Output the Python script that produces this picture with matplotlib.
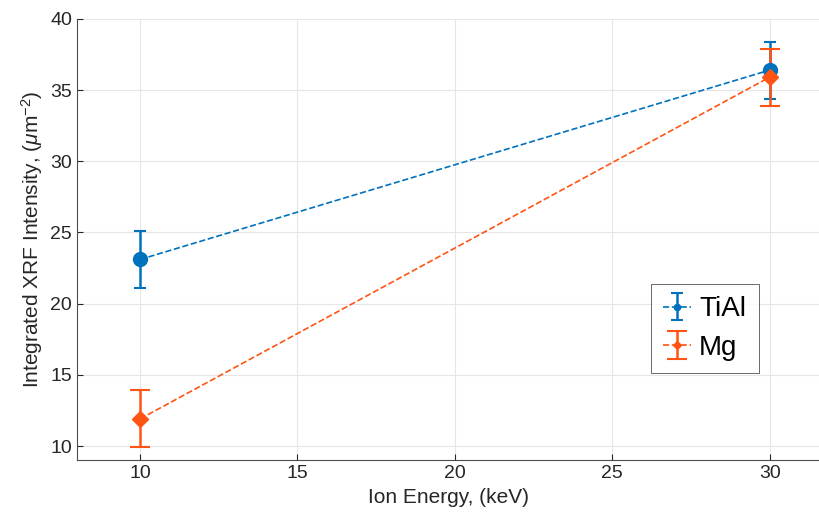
import numpy as np
import matplotlib.pyplot as plt

plt.rcParams['font.family'] = ['Liberation Sans', 'DejaVu Sans']
plt.rcParams['mathtext.fontset'] = 'custom'
plt.rcParams['mathtext.it'] = 'Liberation Sans:italic'
plt.rcParams['mathtext.rm'] = 'Liberation Sans'

energy = [10, 30]
tial = [23.1, 36.4]
tial_err = [2.0, 2.0]
mg = [11.9, 35.9]
mg_err = [2.0, 2.0]

blue = '#0072BD'
orange = '#FF5414'

fig = plt.figure(figsize=(8.2, 5.23), dpi=100)
ax = fig.add_axes([0.094, 0.12, 0.906, 0.844])

ax.errorbar(energy, tial, yerr=tial_err, fmt='o--', color=blue, ms=10,
            lw=1.2, elinewidth=1.8, capsize=4, capthick=1.5, label='TiAl')
ax.errorbar(energy, mg, yerr=mg_err, fmt='D--', color=orange, ms=8,
            lw=1.2, elinewidth=1.8, capsize=7, capthick=1.5, label='Mg')

ax.set_xlim(8, 31.6)
ax.set_ylim(9, 40)
ax.set_xticks([10, 15, 20, 25, 30])
ax.set_yticks([10, 15, 20, 25, 30, 35, 40])
ax.grid(True, color='#e6e6e6', lw=0.8)
ax.set_axisbelow(True)
for s in ['top', 'right']:
    ax.spines[s].set_visible(False)
for s in ['left', 'bottom']:
    ax.spines[s].set_color('#4d4d4d')
ax.tick_params(labelsize=14, colors='#262626', length=4, direction='in')

ax.set_xlabel('Ion Energy, (keV)', fontsize=15, color='#262626')
ax.set_ylabel(r'Integrated XRF Intensity, ($\mu$m$^{-2}$)', fontsize=15, color='#262626')

leg = ax.legend(loc='lower left', bbox_to_anchor=(0.772, 0.197), fontsize=20,
                frameon=True, fancybox=False, edgecolor='#262626', borderaxespad=0,
                markerscale=0.45, handlelength=1.0, handletextpad=0.3,
                borderpad=0.45, labelspacing=0.45)
leg.get_frame().set_linewidth(0.6)

fig.savefig('out.png', dpi=100)
